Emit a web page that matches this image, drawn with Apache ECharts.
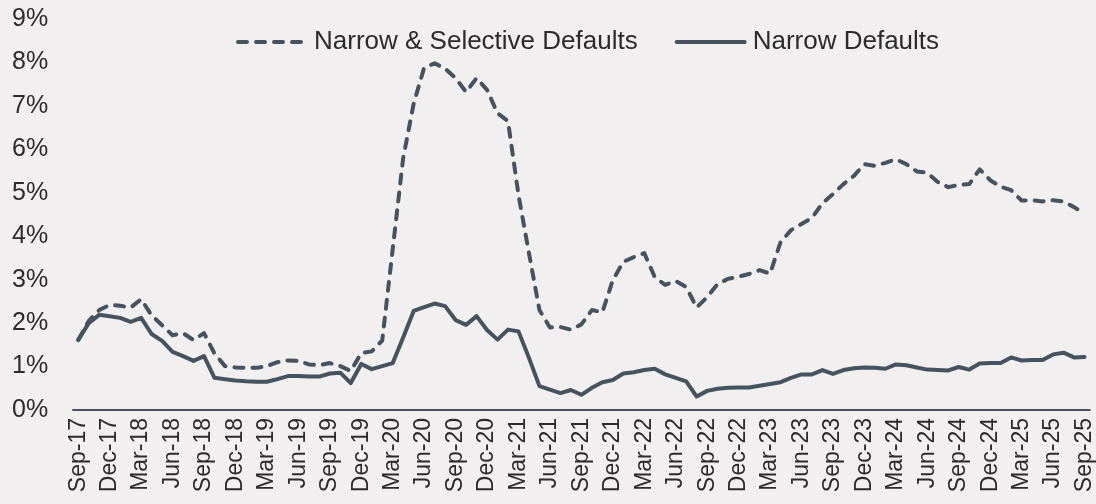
<!DOCTYPE html>
<html>
<head>
<meta charset="utf-8">
<script src="https://cdn.jsdelivr.net/npm/echarts@6/dist/echarts.min.js"></script>
<style>
html,body{margin:0;padding:0;background:#f1eff0;}
#chart{width:1096px;height:504px;}
</style>
</head>
<body>
<div id="chart"></div>
<script>
const categories = [
'Sep-17','Oct-17','Nov-17','Dec-17','Jan-18','Feb-18','Mar-18','Apr-18','May-18','Jun-18','Jul-18','Aug-18',
'Sep-18','Oct-18','Nov-18','Dec-18','Jan-19','Feb-19','Mar-19','Apr-19','May-19','Jun-19','Jul-19','Aug-19',
'Sep-19','Oct-19','Nov-19','Dec-19','Jan-20','Feb-20','Mar-20','Apr-20','May-20','Jun-20','Jul-20','Aug-20',
'Sep-20','Oct-20','Nov-20','Dec-20','Jan-21','Feb-21','Mar-21','Apr-21','May-21','Jun-21','Jul-21','Aug-21',
'Sep-21','Oct-21','Nov-21','Dec-21','Jan-22','Feb-22','Mar-22','Apr-22','May-22','Jun-22','Jul-22','Aug-22',
'Sep-22','Oct-22','Nov-22','Dec-22','Jan-23','Feb-23','Mar-23','Apr-23','May-23','Jun-23','Jul-23','Aug-23',
'Sep-23','Oct-23','Nov-23','Dec-23','Jan-24','Feb-24','Mar-24','Apr-24','May-24','Jun-24','Jul-24','Aug-24',
'Sep-24','Oct-24','Nov-24','Dec-24','Jan-25','Feb-25','Mar-25','Apr-25','May-25','Jun-25','Jul-25','Aug-25',
'Sep-25'
];

const narrowSelective = [
1.61,2.05,2.30,2.42,2.40,2.36,2.55,2.18,1.95,1.72,1.77,1.61,
1.77,1.30,1.01,0.98,0.97,0.97,1.01,1.10,1.14,1.13,1.05,1.03,
1.08,1.01,0.90,1.31,1.35,1.60,3.70,5.80,7.05,7.88,7.98,7.86,
7.64,7.32,7.64,7.37,6.83,6.65,4.95,3.61,2.30,1.90,1.91,1.85,
1.97,2.30,2.25,2.99,3.41,3.52,3.61,3.06,2.88,2.97,2.83,2.36,
2.60,2.90,3.02,3.07,3.13,3.22,3.14,3.86,4.14,4.28,4.42,4.76,
4.97,5.20,5.39,5.66,5.62,5.69,5.77,5.66,5.49,5.46,5.25,5.13,
5.18,5.20,5.54,5.29,5.14,5.06,4.82,4.83,4.80,4.83,4.80,4.67,
4.52
];

const narrow = [
1.61,2.00,2.19,2.16,2.12,2.03,2.12,1.75,1.59,1.34,1.24,1.13,
1.24,0.74,0.71,0.68,0.66,0.65,0.65,0.71,0.78,0.78,0.77,0.77,
0.84,0.86,0.62,1.06,0.94,1.01,1.08,1.67,2.28,2.37,2.45,2.39,
2.07,1.96,2.16,1.84,1.62,1.85,1.81,1.20,0.55,0.47,0.39,0.46,
0.35,0.51,0.64,0.69,0.84,0.87,0.92,0.95,0.82,0.74,0.66,0.31,
0.44,0.49,0.51,0.52,0.52,0.56,0.60,0.64,0.74,0.82,0.82,0.92,
0.83,0.92,0.96,0.98,0.97,0.95,1.05,1.03,0.98,0.93,0.92,0.91,
0.99,0.93,1.07,1.08,1.08,1.21,1.14,1.15,1.15,1.28,1.32,1.21,
1.22
];

const seriesNames = ['Narrow & Selective Defaults', 'Narrow Defaults'];

const lineColor = '#44535f';
const textColor = '#2b2b2b';
const fontFamily = '"Liberation Sans", Arial, Helvetica, sans-serif';

const chart = echarts.init(document.getElementById('chart'), null, {renderer: 'canvas'});
chart.setOption({
  backgroundColor: '#f1eff0',
  animation: false,
  textStyle: {fontFamily: fontFamily},
  grid: {left: 73, right: 4.5, top: 19, bottom: 94, containLabel: false},
  legend: {
    left: 231,
    top: 24,
    itemWidth: 68,
    itemHeight: 14,
    itemGap: 37,
    itemStyle: {opacity: 0},
    lineStyle: {width: 4, cap: 'round'},
    textStyle: {fontSize: 26, color: textColor, fontFamily: fontFamily, padding: [0,0,0,3]},
    data: seriesNames
  },
  xAxis: {
    type: 'category',
    data: categories,
    boundaryGap: true,
    axisLine: {show: true, lineStyle: {color: lineColor, width: 2}},
    axisTick: {show: false},
    axisLabel: {rotate: 90, interval: 2, fontSize: 23, margin: 8, color: textColor, fontFamily: fontFamily},
    splitLine: {show: false}
  },
  yAxis: {
    type: 'value',
    min: 0, max: 9, interval: 1,
    axisLine: {show: false},
    axisTick: {show: false},
    splitLine: {show: false},
    axisLabel: {formatter: '{value}%', fontSize: 25, align: 'left', margin: 61, color: textColor, fontFamily: fontFamily}
  },
  series: [
    {
      name: seriesNames[0],
      type: 'line',
      data: narrowSelective,
      symbol: 'none',
      color: lineColor,
      lineStyle: {color: lineColor, width: 4, type: [9, 9], cap: 'round', join: 'round'}
    },
    {
      name: seriesNames[1],
      type: 'line',
      data: narrow,
      symbol: 'none',
      color: lineColor,
      lineStyle: {color: lineColor, width: 4, type: 'solid', cap: 'round', join: 'round'}
    }
  ]
});
</script>
</body>
</html>
